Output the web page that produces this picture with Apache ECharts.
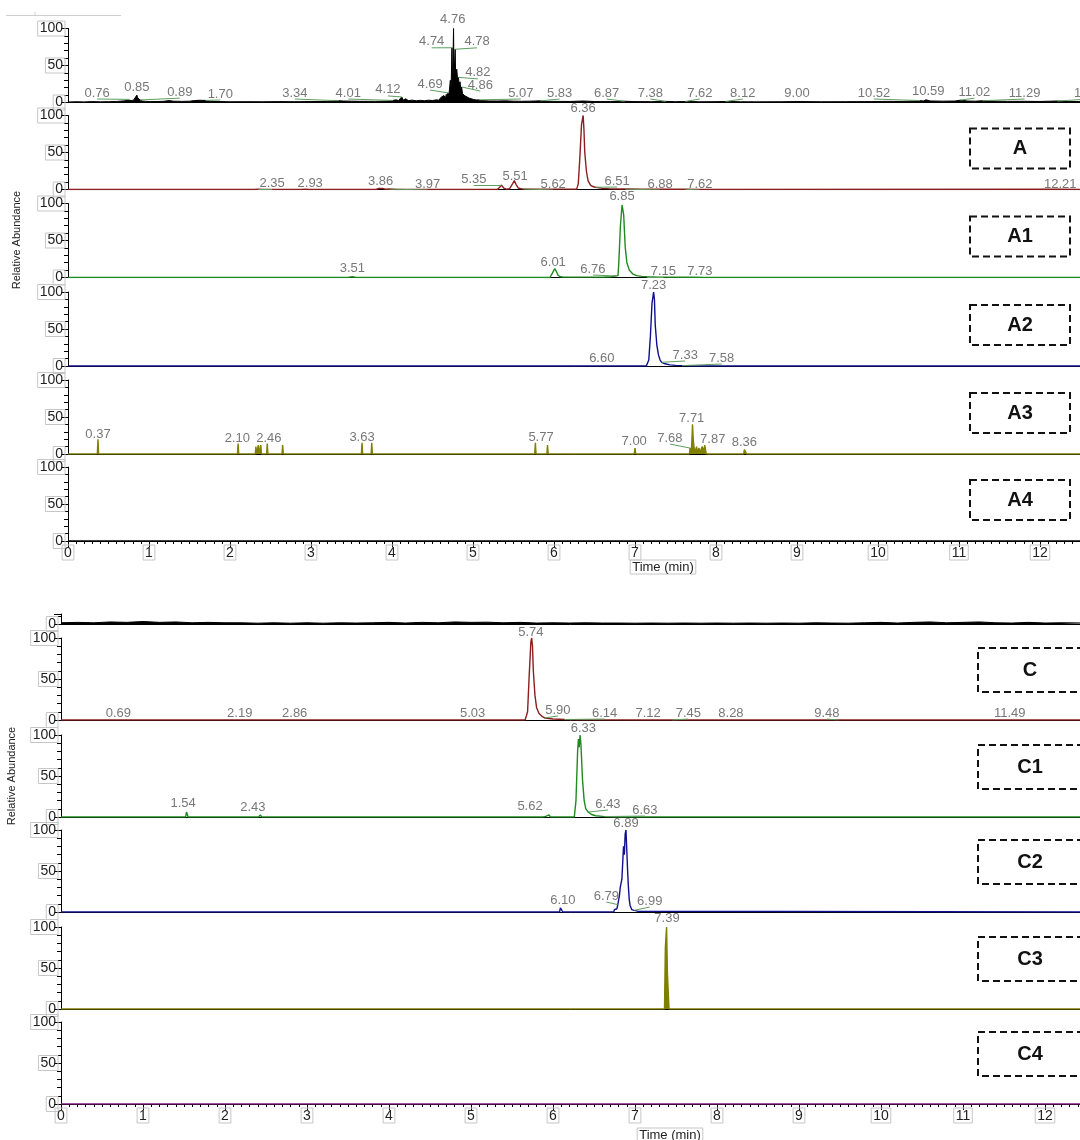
<!DOCTYPE html>
<html>
<head>
<meta charset="utf-8">
<script src="https://cdn.jsdelivr.net/npm/echarts@6/dist/echarts.min.js"></script>
<style>
  html, body { margin: 0; padding: 0; background: #fff; }
  #chart { width: 1080px; height: 1140px; }
</style>
</head>
<body>
<div id="chart"></div>
<script>
// ---------- tick labels ----------
const abundanceTicks = [0, 50, 100];
const timeTicks = [0, 1, 2, 3, 4, 5, 6, 7, 8, 9, 10, 11, 12];

// ---------- panel names ----------
const namesTop = ['A', 'A1', 'A2', 'A3', 'A4'];
const namesBottom = ['C', 'C1', 'C2', 'C3', 'C4'];

// ---------- traces: [time (min), relative abundance (%)] ----------
const ticTop = [[0,0.6],[0.1,1.0],[0.2,0.8],[0.3,1.2],[0.4,0.9],[0.5,1.1],[0.6,1.4],[0.7,2.2],[0.74,3.2],[0.76,4.2],[0.78,2.6],[0.81,3.2],[0.83,5.5],[0.85,10],[0.86,6.5],[0.87,4],[0.89,3.4],[0.92,2],[0.96,1.5],[1.02,1.2],[1.1,1.3],[1.18,1.6],[1.25,2.6],[1.3,1.8],[1.4,1.5],[1.5,1.7],[1.56,2.6],[1.62,3.0],[1.70,2.8],[1.76,1.6],[1.9,1.2],[2.0,1.0],[2.2,1.1],[2.4,1.0],[2.6,1.2],[2.8,1.1],[3.0,1.3],[3.2,1.4],[3.34,2.4],[3.4,2.0],[3.5,1.8],[3.6,1.6],[3.8,1.5],[3.95,1.9],[4.01,2.8],[4.05,3.6],[4.08,2.6],[4.1,4.6],[4.12,7.5],[4.14,3.2],[4.17,5.0],[4.2,2.6],[4.25,3.2],[4.3,2.3],[4.35,2.9],[4.4,2.4],[4.45,3.1],[4.5,2.7],[4.55,3.6],[4.58,3.0],[4.6,6.5],[4.62,4.2],[4.64,9.5],[4.66,6.0],[4.67,11],[4.68,7.5],[4.69,13],[4.70,9.0],[4.71,18],[4.72,30],[4.73,20],[4.74,74],[4.745,28],[4.75,40],[4.76,100],[4.765,36],[4.77,46],[4.78,72],[4.785,40],[4.79,38],[4.80,45],[4.81,30],[4.82,34],[4.83,24],[4.84,28],[4.85,18],[4.86,21],[4.87,12],[4.88,14],[4.90,9],[4.92,8],[4.95,6],[4.98,5],[5.01,4],[5.04,3.4],[5.07,3.6],[5.1,2.6],[5.2,2.1],[5.3,2.0],[5.4,2.2],[5.5,1.8],[5.6,1.6],[5.7,1.8],[5.83,2.2],[5.9,1.6],[6.0,1.5],[6.2,1.4],[6.36,2.0],[6.5,1.3],[6.7,1.2],[6.87,1.7],[7.0,1.2],[7.2,1.1],[7.38,1.5],[7.5,1.1],[7.62,1.4],[7.8,1.0],[8.0,1.1],[8.12,1.4],[8.3,1.0],[8.5,0.9],[8.8,1.0],[9.00,1.3],[9.3,1.0],[9.6,1.1],[9.9,1.2],[10.1,1.5],[10.3,1.4],[10.45,1.9],[10.52,2.6],[10.56,2.0],[10.59,3.6],[10.65,2.1],[10.8,1.8],[10.95,2.0],[11.02,3.2],[11.1,2.0],[11.2,1.8],[11.29,2.4],[11.4,2.0],[11.6,1.5],[11.8,1.6],[12.0,1.4],[12.21,2.0],[12.35,1.3],[12.5,1.2]];

const traceA = [[0,0],[2.30,0],[2.35,0.5],[2.40,0],[2.88,0],[2.93,0.5],[2.98,0],[3.80,0],[3.84,1.5],[3.86,2.5],[3.88,1.5],[3.92,0.4],[3.97,0.6],[4.05,0],[5.30,0],[5.33,3],[5.35,6],[5.38,2],[5.41,0.5],[5.45,1],[5.49,8],[5.51,12],[5.53,7],[5.56,2],[5.59,1],[5.62,0.8],[5.70,0.5],[6.28,0.5],[6.30,8],[6.32,45],[6.34,88],[6.36,100],[6.37,80],[6.38,50],[6.40,25],[6.42,12],[6.45,6],[6.48,4],[6.51,3],[6.60,1.5],[6.70,0.8],[6.88,0.6],[7.10,0.3],[7.62,0.4],[7.80,0],[12.21,0.3],[12.5,0]];

const traceA1 = [[0,0],[3.45,0],[3.51,1],[3.56,0],[5.95,0],[5.98,6],[6.01,12],[6.03,8],[6.05,3],[6.08,1],[6.12,0.5],[6.60,0.5],[6.70,1],[6.76,2],[6.79,2.5],[6.80,20],[6.82,70],[6.84,98],[6.85,100],[6.86,85],[6.88,40],[6.90,20],[6.93,10],[6.97,5],[7.02,2.5],[7.08,1.5],[7.15,1],[7.30,0.5],[7.73,0.4],[7.85,0],[12.5,0]];

const traceA2 = [[0,0],[6.60,0],[7.14,0],[7.17,8],[7.19,40],[7.21,85],[7.23,100],[7.24,90],[7.25,55],[7.27,28],[7.29,15],[7.31,8],[7.33,5],[7.37,3],[7.43,1.5],[7.50,0.8],[7.58,0.5],[7.70,0],[12.5,0]];

const traceA3 = [[0,0],[0.362,0],[0.37,20],[0.378,0],[2.092,0],[2.10,14],[2.108,0],[2.312,0],[2.32,10],[2.328,0],[2.342,0],[2.35,12],[2.358,0],[2.372,0],[2.38,12],[2.388,0],[2.452,0],[2.46,14],[2.468,0],[2.642,0],[2.65,12],[2.658,0],[3.622,0],[3.63,15],[3.638,0],[3.742,0],[3.75,15],[3.758,0],[5.762,0],[5.77,15],[5.778,0],[5.912,0],[5.92,12],[5.928,0],[6.99,0],[7.00,8],[7.01,0],[7.672,0],[7.68,8],[7.69,3],[7.70,12],[7.71,40],[7.72,18],[7.73,8],[7.74,2],[7.76,10],[7.77,2],[7.79,8],[7.80,2],[7.83,10],[7.84,12],[7.85,3],[7.86,12],[7.87,12],[7.88,0],[8.342,0],[8.35,6],[8.36,6],[8.37,6],[8.378,0],[12.5,0]];

const traceA4 = [[0,0],[12.5,0]];

const ticBottom = [[0,1.5],[0.2,2],[0.4,1.5],[0.6,2.5],[0.8,2],[1.0,3],[1.2,2],[1.4,2.5],[1.6,1.5],[1.8,2],[2.0,1.5],[2.2,1.5],[2.4,1],[2.6,1.5],[2.8,1],[3.0,1.5],[3.2,1],[3.4,1.5],[3.6,1.2],[3.8,1.5],[4.0,2],[4.2,1.2],[4.4,2],[4.6,1.5],[4.8,2.5],[5.0,2],[5.2,2.2],[5.4,1.5],[5.6,2],[5.8,1.2],[6.0,1.5],[6.2,1.2],[6.4,1.5],[6.6,1.2],[6.8,1.2],[7.0,1],[7.2,1.2],[7.4,1],[7.6,1.2],[7.8,1],[8.0,1.2],[8.2,1],[8.4,1.2],[8.6,1],[8.8,1.2],[9.0,1],[9.2,1.5],[9.4,1.2],[9.6,1],[9.8,1.5],[10.0,2],[10.2,1.2],[10.4,2],[10.6,2.5],[10.8,1.5],[11.0,2],[11.2,2.5],[11.4,1.5],[11.6,1.2],[11.8,2],[12.0,1.2],[12.2,1.5],[12.5,1.2]];

const traceC = [[0,0],[0.69,0],[5.66,0],[5.69,10],[5.71,55],[5.73,95],[5.74,100],[5.75,90],[5.76,60],[5.78,30],[5.80,15],[5.83,8],[5.87,4],[5.90,2.5],[6.00,1.2],[6.14,0.6],[6.30,0.3],[7.12,0],[12.5,0]];

const traceC1 = [[0,0],[1.52,0],[1.53,6],[1.54,6],[1.55,0],[2.41,0],[2.43,2.5],[2.45,0],[2.61,0],[2.62,2],[2.63,0],[5.60,0],[5.62,2],[5.64,0],[5.68,0],[5.69,2],[5.70,0],[5.88,0],[5.90,2],[5.92,1],[5.95,2.5],[5.97,0],[6.26,0],[6.28,20],[6.30,80],[6.31,95],[6.32,85],[6.33,100],[6.34,90],[6.36,45],[6.38,20],[6.40,10],[6.43,6],[6.47,3],[6.52,1.5],[6.60,0.8],[6.63,0.5],[6.75,0],[12.5,0]];

const traceC2 = [[0,0],[6.08,0],[6.09,5],[6.10,6],[6.11,5],[6.12,0],[6.74,0],[6.75,3],[6.77,5],[6.78,4],[6.79,9],[6.80,10],[6.81,20],[6.82,30],[6.84,40],[6.86,80],[6.87,70],[6.88,95],[6.89,100],[6.90,75],[6.91,50],[6.92,30],[6.93,15],[6.94,8],[6.95,6],[6.96,3],[6.97,4],[6.99,2],[7.01,3],[7.03,1],[7.05,0],[12.5,0]];

const traceC3 = [[0,0],[7.36,0],[7.37,75],[7.38,75],[7.385,100],[7.39,100],[7.395,45],[7.40,45],[7.405,22],[7.41,22],[7.415,0],[12.5,0]];

const traceC4 = [[0,0],[12.5,0]];

// ---------- peak annotations: [retention time, label centre time, label centre %] ----------
const peaksTicTop = [[0.76,0.36,12.8],[0.85,0.85,21],[0.89,1.38,14],[1.70,1.88,11.5],[3.34,2.80,12.8],[4.01,3.46,12.8],[4.12,3.95,17],[4.69,4.47,25],[4.74,4.49,82],[4.76,4.75,112],[4.78,5.05,82],[4.82,5.06,40],[4.86,5.09,23.6],[5.07,5.59,12.8],[5.83,6.07,12.8],[6.87,6.65,12.8],[7.38,7.19,12.8],[7.62,7.80,12.8],[8.12,8.33,12.8],[9.00,9.00,12.8],[10.52,9.95,12.8],[10.59,10.62,15.5],[11.02,11.19,14],[11.29,11.81,12.8],[12.21,12.62,12.8]];
const peaksA = [[2.35,2.52,8.8],[2.93,2.99,8.8],[3.86,3.86,11.5],[3.97,4.44,7.4],[5.35,5.01,14.2],[5.51,5.52,18.2],[5.62,5.99,7.4],[6.36,6.36,110],[6.51,6.78,11.5],[6.88,7.31,7.4],[7.62,7.80,7.4],[12.21,12.25,7.4]];
const peaksA1 = [[3.51,3.51,12.8],[6.01,5.99,21],[6.76,6.48,11.5],[6.85,6.84,109],[7.15,7.35,8.8],[7.73,7.80,8.8]];
const peaksA2 = [[6.60,6.59,10.8],[7.23,7.23,109],[7.33,7.62,14.9],[7.58,8.07,10.8]];
const peaksA3 = [[0.37,0.37,27],[2.10,2.09,21.6],[2.46,2.48,21.6],[3.63,3.63,23],[5.77,5.84,23],[7.00,6.99,17.6],[7.68,7.43,21.6],[7.71,7.70,48.6],[7.87,7.96,20.3],[8.36,8.35,16.2]];
const peaksC = [[0.69,0.70,8.5],[2.19,2.18,8.5],[2.86,2.85,8.5],[5.03,5.02,8.5],[5.74,5.73,107],[5.90,6.06,12.2],[6.14,6.63,8.5],[7.12,7.16,8.5],[7.45,7.65,8.5],[8.28,8.17,8.5],[9.48,9.34,8.5],[11.49,11.57,8.5]];
const peaksC1 = [[1.54,1.49,17],[2.43,2.34,12.2],[5.62,5.72,13.4],[6.33,6.37,108.5],[6.43,6.67,15.9],[6.63,7.12,8.5]];
const peaksC2 = [[6.10,6.12,14.6],[6.79,6.65,19.5],[6.89,6.89,108.5],[6.99,7.18,13.4]];
const peaksC3 = [[7.39,7.39,111]];

// ---------- styling ----------
const FONT = '"Liberation Sans", Arial, Helvetica, sans-serif';
const COLORS = { tic: '#000000', red: '#8b1f1f', green: '#1f8a1f', navy: '#10108f', olive: '#7f7f00', purple: '#7a1a7a', leader: '#5e9e5e', label: '#555555' };

// figure geometry (pixels)
const TOP = { left: 68, pxPerMin: 81, height: 74, bases: [102.5, 189.5, 277.5, 366, 454, 541] };
const BOT = { left: 61, pxPerMin: 82, height: 82, bases: [720, 817, 912, 1009, 1104] };
const X_SPAN = 13; // axis runs past the right edge of the page

const grids = [], xAxes = [], yAxes = [], series = [], graphics = [];

function valueAt(trace, t) {
  for (let k = 1; k < trace.length; k++) {
    const [x0, y0] = trace[k - 1], [x1, y1] = trace[k];
    if (t >= x0 && t <= x1) {
      return x1 === x0 ? Math.max(y0, y1) : y0 + (y1 - y0) * (t - x0) / (x1 - x0);
    }
  }
  return 0;
}

const boxLabel = { borderColor: '#c6c6c6', borderWidth: 1, padding: [1, 2, 0, 2] };

function addPanel(p) {
  const i = grids.length;
  const width = X_SPAN * p.fig.pxPerMin;
  grids.push({ left: p.fig.left, top: p.top, width: width, height: p.height, containLabel: false, outerBoundsMode: 'none' });
  xAxes.push({
    type: 'value', gridIndex: i, min: 0, max: X_SPAN, interval: 1,
    axisLine: { show: true, onZero: false, lineStyle: { color: '#000', width: 1 } },
    axisTick: { show: !!p.timeAxis, length: 6, lineStyle: { color: '#000' } },
    minorTick: { show: !!p.timeAxis, splitNumber: 10, length: 3, lineStyle: { color: '#000' } },
    axisLabel: Object.assign({
      show: !!p.timeAxis, margin: 4, fontSize: 14, color: '#222', fontFamily: FONT,
      formatter: v => (timeTicks.indexOf(v) >= 0 ? String(v) : '')
    }, boxLabel),
    splitLine: { show: false }, minorSplitLine: { show: false }
  });
  yAxes.push({
    type: 'value', gridIndex: i, min: 0, max: p.yMax, interval: 50,
    axisLine: { show: true, onZero: false, lineStyle: { color: '#000', width: 1 } },
    axisTick: { show: true, length: 7, lineStyle: { color: '#000' } },
    minorTick: { show: true, splitNumber: 5, length: 4, lineStyle: { color: '#000' } },
    axisLabel: Object.assign({
      show: true, margin: 3, fontSize: 14, color: '#222', fontFamily: FONT,
      showMaxLabel: p.yMax === 100,
      formatter: v => (abundanceTicks.indexOf(v) >= 0 ? String(v) : '')
    }, boxLabel),
    splitLine: { show: false }, minorSplitLine: { show: false }
  });

  const lineSeries = {
    type: 'line', xAxisIndex: i, yAxisIndex: i, data: p.trace,
    showSymbol: false, symbol: 'none', animation: false, silent: true, z: 3,
    lineStyle: { color: p.color, width: p.lineWidth || 1.4 }
  };
  if (p.fill) lineSeries.areaStyle = { color: p.color, opacity: 1 };
  series.push(lineSeries);

  if (p.peaks && p.peaks.length) {
    series.push({
      type: 'scatter', xAxisIndex: i, yAxisIndex: i, clip: false, silent: true, animation: false, z: 6,
      symbolSize: 1, itemStyle: { color: 'rgba(0,0,0,0)' },
      data: p.peaks.map(([rt, lx, ly]) => [lx, ly, rt]),
      label: {
        show: true, position: 'inside', color: COLORS.label, fontSize: 13, fontFamily: FONT,
        formatter: d => d.value[2].toFixed(2)
      }
    });
    const off = 6 / p.height * 100;
    const leaders = p.peaks
      .filter(([rt, lx]) => Math.abs(lx - rt) > 0.12)
      .map(([rt, lx, ly]) => ({ coords: [[lx, ly - off], [rt, valueAt(p.trace, rt)]] }));
    if (leaders.length) {
      series.push({
        type: 'lines', coordinateSystem: 'cartesian2d', xAxisIndex: i, yAxisIndex: i,
        silent: true, animation: false, z: 4,
        lineStyle: { color: COLORS.leader, width: 1, opacity: 1 },
        data: leaders
      });
    }
  }

  if (p.name) {
    const b = p.box;
    graphics.push({
      type: 'rect', silent: true, z: 10,
      shape: { x: b.x, y: p.top + p.height - b.dy, width: b.w, height: b.h },
      style: { fill: 'none', stroke: '#111', lineWidth: 2, lineDash: [7, 4] }
    });
    graphics.push({
      type: 'text', silent: true, z: 11,
      style: {
        text: p.name, x: b.tx, y: p.top + p.height - b.dy + b.h / 2,
        align: 'center', verticalAlign: 'middle',
        font: 'bold 20px ' + FONT, fill: '#111'
      }
    });
  }
}

// ----- first figure -----
const topTraces = [ticTop, traceA, traceA1, traceA2, traceA3, traceA4];
const topColors = [COLORS.tic, COLORS.red, COLORS.green, COLORS.navy, COLORS.olive, COLORS.tic];
const topPeaks = [peaksTicTop, peaksA, peaksA1, peaksA2, peaksA3, []];
TOP.bases.forEach((base, k) => {
  addPanel({
    fig: TOP, top: base - TOP.height, height: TOP.height, yMax: 100,
    trace: topTraces[k], color: topColors[k], fill: k === 0 || k === 4,
    lineWidth: k === 0 ? 1 : 1.4,
    peaks: topPeaks[k], timeAxis: k === TOP.bases.length - 1,
    name: k > 0 ? namesTop[k - 1] : null,
    box: { x: 970, w: 100, h: 40, dy: 61, tx: 1020 }
  });
});

// ----- second figure -----
// the overall trace is only visible as a thin strip at the top
addPanel({
  fig: BOT, top: 614, height: 10, yMax: 12.2,
  trace: ticBottom, color: COLORS.tic, fill: true, lineWidth: 1,
  peaks: [], timeAxis: false, name: null
});
const botTraces = [traceC, traceC1, traceC2, traceC3, traceC4];
const botColors = [COLORS.red, COLORS.green, COLORS.navy, COLORS.olive, COLORS.purple];
const botPeaks = [peaksC, peaksC1, peaksC2, peaksC3, []];
BOT.bases.forEach((base, k) => {
  addPanel({
    fig: BOT, top: base - BOT.height, height: BOT.height, yMax: 100,
    trace: botTraces[k], color: botColors[k], fill: k === 3,
    peaks: botPeaks[k], timeAxis: k === BOT.bases.length - 1,
    name: namesBottom[k],
    box: { x: 978, w: 110, h: 44, dy: 72, tx: 1030 }
  });
});

// axis titles
[[17, 240], [12, 776]].forEach(([x, y]) => {
  graphics.push({
    type: 'text', silent: true, x: x, y: y, rotation: Math.PI / 2,
    style: { text: 'Relative Abundance', align: 'center', verticalAlign: 'middle', font: '11px ' + FONT, fill: '#222' }
  });
});
[[663, 567], [670, 1135]].forEach(([x, y]) => {
  graphics.push({
    type: 'text', silent: true,
    style: {
      text: 'Time (min)', x: x, y: y, align: 'center', verticalAlign: 'middle',
      font: '13px ' + FONT, fill: '#222', borderColor: '#c6c6c6', borderWidth: 1, padding: [1, 2, 0, 2]
    }
  });
});
// faint rule at the top-left corner
graphics.push({ type: 'line', silent: true, shape: { x1: 6, y1: 15.5, x2: 121, y2: 15.5 }, style: { stroke: '#cfcfcf', lineWidth: 1 } });
graphics.push({ type: 'line', silent: true, shape: { x1: 35, y1: 12, x2: 35, y2: 15.5 }, style: { stroke: '#cfcfcf', lineWidth: 1 } });

const chart = echarts.init(document.getElementById('chart'), null, { renderer: 'canvas' });
chart.setOption({
  backgroundColor: '#ffffff',
  animation: false,
  textStyle: { fontFamily: FONT },
  grid: grids, xAxis: xAxes, yAxis: yAxes, series: series, graphic: graphics
});
</script>
</body>
</html>
